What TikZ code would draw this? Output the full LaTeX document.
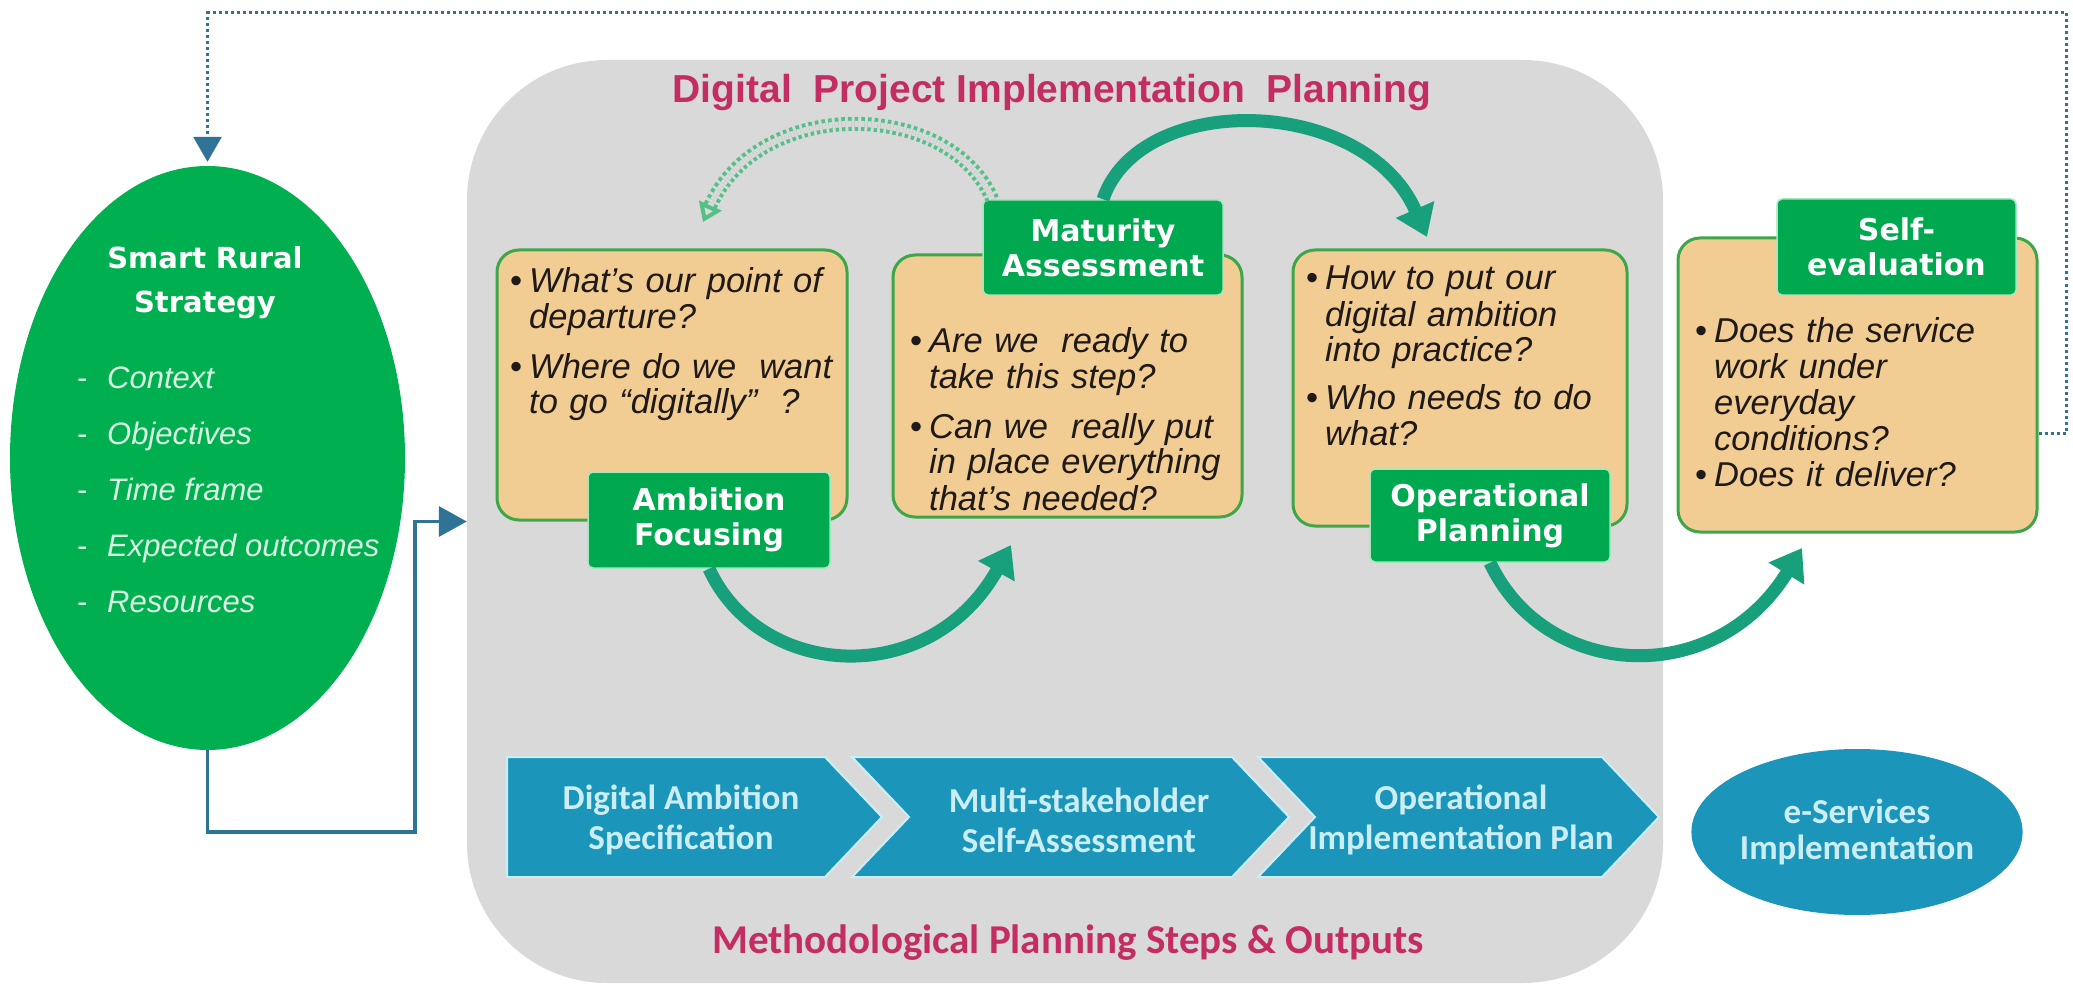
\documentclass[tikz,border=0pt]{standalone}
\usepackage{fontspec}
\setmainfont{Liberation Sans}
\newfontfamily\dejavu{DejaVu Sans}
\newfontfamily\carlito{Carlito}
\usepackage{tikz}
\usetikzlibrary{shapes.geometric,arrows.meta}
\definecolor{srsgreen}{HTML}{00B050}
\definecolor{labgreen}{HTML}{00A84F}
\definecolor{labedge}{HTML}{A6E6BE}
\definecolor{boxedge}{HTML}{3DA648}
\definecolor{boxfill}{HTML}{F2CD93}
\definecolor{plangrey}{HTML}{D9D9D9}
\definecolor{crimson}{HTML}{C42D63}
\definecolor{stepblue}{HTML}{1C95BA}
\definecolor{chevedge}{HTML}{CBEEF5}
\definecolor{linkblue}{HTML}{2F7396}
\definecolor{arcgreen}{HTML}{17A07B}
\definecolor{dotgreen}{HTML}{55BF88}
\definecolor{mint}{HTML}{D8F6E2}
\definecolor{textdark}{HTML}{1F1A17}
\newcommand{\qbul}{\makebox[19pt][l]{\upshape\textbullet}}
\newcommand{\qind}{\hspace*{19pt}}

\begin{document}
\begin{tikzpicture}[x=1pt,y=-1pt,
  qbox/.style={draw=boxedge,line width=3pt,fill=boxfill,rounded corners=22pt,inner sep=0pt},
  qtext/.style={anchor=base west,inner sep=0pt,text width=345pt,align=left,text=textdark,
    font=\itshape\fontsize{34.5}{36}\selectfont},
  lab/.style={fill=labgreen,draw=labedge,line width=1.5pt,rounded corners=5pt,inner sep=0pt,
    text=white,align=center,font=\dejavu\bfseries\fontsize{30}{35}\selectfont},
  arc/.style={draw=arcgreen,line width=13pt,-{Triangle[length=30pt,width=40pt]}},
  chev/.style={fill=stepblue,draw=chevedge,line width=2pt},
  steptext/.style={text=chevedge,align=center,font=\carlito\bfseries\fontsize{35}{40}\selectfont},
  srsitem/.style={anchor=base west,inner sep=0pt,text=mint,font=\itshape\fontsize{31}{34}\selectfont}]
\useasboundingbox (0,0) rectangle (2073,987);

% planning area
\node[fill=plangrey,rounded corners=140pt,minimum width=1196pt,minimum height=923pt,inner sep=0pt] (plan) at (1065,521.5) {};
\node[anchor=base,text=crimson,font=\bfseries\fontsize{39}{44}\selectfont] (plantitle) at (1052,103) {Digital\ \ Project Implementation\ \ Planning};
\node[anchor=base,text=crimson,font=\carlito\bfseries\fontsize{41}{44}\selectfont] (steptitle) at (1068,953) {Methodological Planning Steps \& Outputs};

% strategy ellipse
\node[ellipse,fill=srsgreen,minimum width=395pt,minimum height=584pt,inner sep=0pt] (srs) at (207.5,458) {};
\node[anchor=base,inner sep=0pt,text width=300pt,align=center,text=white,font=\dejavu\bfseries\fontsize{29}{44}\selectfont] (srstitle) at (205,269) {Smart Rural\\Strategy};
\foreach \t [count=\i] in {Context,Objectives,Time frame,Expected outcomes,Resources}
  \node[srsitem] (srsitem\i) at (77,{332+56*\i}) {\makebox[30pt][l]{\upshape-}\t};

% question boxes
\node[qbox,minimum width=350pt,minimum height=270pt] (afbox) at (672,385) {};
\node[qbox,minimum width=349pt,minimum height=262pt] (mabox) at (1067.5,386) {};
\node[qbox,minimum width=334pt,minimum height=276pt] (opbox) at (1460,388) {};
\node[qbox,minimum width=359pt,minimum height=294pt] (sebox) at (1857.5,385) {};

\node[qtext] (aftext) at (510,292) {\qbul What’s our point of\\\qind departure?\\[14pt]\qbul Where do we\ \ want\\\qind to go “digitally”\ \ ?};
\node[qtext] (matext) at (910,352) {\qbul Are we\ \ ready to\\\qind take this step?\\[14pt]\qbul Can we\ \ really put\\\qind in place everything\\\qind that’s needed?};
\node[qtext] (optext) at (1306,290) {\qbul How to put our\\\qind digital ambition\\\qind into practice?\\[12pt]\qbul Who needs to do\\\qind what?};
\node[qtext] (setext) at (1695,342) {\qbul Does the service\\\qind work under\\\qind everyday\\\qind conditions?\\\qbul Does it deliver?};

% step labels
\node[lab,minimum width=242pt,minimum height=96pt] (aflabel) at (709,520) {Ambition\\Focusing};
\node[lab,minimum width=240pt,minimum height=95pt] (malabel) at (1103,247.5) {Maturity\\Assessment};
\node[lab,minimum width=240pt,minimum height=93pt] (oplabel) at (1490,515.5) {Operational\\Planning};
\node[lab,minimum width=239pt,minimum height=96pt] (selabel) at (1896.5,247) {Self-\\evaluation};

% curved arrows
\coordinate (aftip) at (1011,545);
\coordinate (matip) at (1427,237);
\coordinate (optip) at (1802,548);
\coordinate (dotend) at (703,222);
\draw[arc] (aflabel.south) .. controls (760,680) and (930,690) .. (aftip);
\draw[arc] (malabel.north) .. controls (1140,90) and (1365,95) .. (matip);
\draw[arc] (oplabel.south) .. controls (1545,680) and (1715,690) .. (optip);
\draw[draw=dotgreen,line width=4pt,double=plangrey,double distance=6pt,dash pattern=on 3.5pt off 3pt,
  -{Triangle[open,length=18pt,width=24pt]}] ([xshift=10pt]malabel.north west) .. controls (950,100) and (760,95) .. (dotend);

% output steps
\draw[chev] (507,757) -- (825,757) -- (882,817) -- (825,877) -- (507,877) -- cycle;
\foreach \a/\b in {852/1232,1258/1602}
  \draw[chev] (\a,757) -- (\b,757) -- ({\b+57},817) -- (\b,877) -- (\a,877) -- ({\a+57},817) -- cycle;
\foreach \x/\t [count=\i] in {681/{Digital Ambition\\Specification},1079/{Multi-stakeholder\\Self-Assessment},1461/{Operational\\Implementation Plan}}
  \node[steptext] (step\i) at (\x,820) {\t};
\node[ellipse,fill=stepblue,minimum width=294pt,minimum height=166pt,inner sep=0pt,text=chevedge,align=center,
  font=\carlito\bfseries\fontsize{35}{36}\selectfont] (eserv) at (1857,832) {e-Services\\Implementation};

% connectors
\draw[draw=linkblue,line width=3.5pt,-{Triangle[length=28pt,width=30pt]}] (srs.south) -- ++(0,82) -| ([xshift=-52pt]plan.west) -- (plan.west);
\draw[draw=linkblue,line width=3pt,dash pattern=on 3pt off 3pt,-{Triangle[length=25pt,width=28pt]},shorten >=4pt]
  ([yshift=-48pt]sebox.east) -| (2066,13) -| (srs.north);
\end{tikzpicture}
\end{document}
